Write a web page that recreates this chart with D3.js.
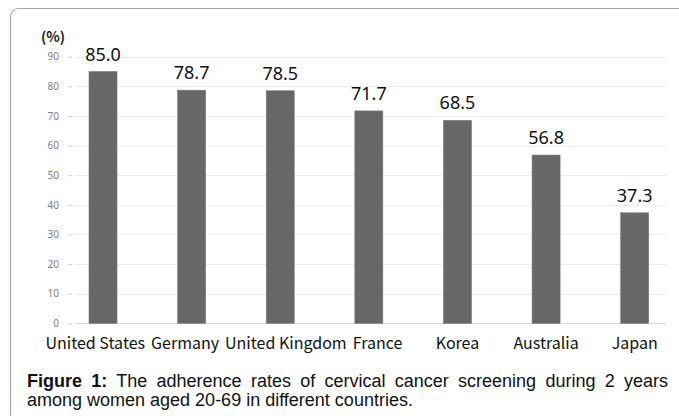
<!DOCTYPE html>
<html>
<head>
<meta charset="utf-8">
<script src="https://cdn.jsdelivr.net/npm/d3@7"></script>
<style>
  html, body { margin: 0; padding: 0; background: #fff; }
  #wrap { position: relative; width: 679px; height: 416px; overflow: hidden; }
  svg { position: absolute; left: 0; top: 0; }
  .cap { position: absolute; left: 27px; width: 641px; font-family: "Liberation Sans", Arial, sans-serif; font-size: 18px; color: #111; line-height: 21px; }
  .cap1 { top: 371px; text-align: justify; text-align-last: justify; white-space: nowrap; }
  .cap2 { top: 390px; text-align: left; }
</style>
</head>
<body>
<div id="wrap">
  <svg id="chart" width="679" height="416"></svg>
  <div class="cap cap1" id="cap1"></div>
  <div class="cap cap2" id="cap2"></div>
</div>
<script>
const categories = ["United States", "Germany", "United Kingdom", "France", "Korea", "Australia", "Japan"];
const values = [85.0, 78.7, 78.5, 71.7, 68.5, 56.8, 37.3];
const yTicks = [0, 10, 20, 30, 40, 50, 60, 70, 80, 90];
const unitLabel = "(%)";
const captionBold = "Figure 1:";
const captionLine1 = " The adherence rates of cervical cancer screening during 2 years";
const captionLine2 = "among women aged 20-69 in different countries.";

const svg = d3.select("#chart");

// frame
svg.append("rect")
  .attr("x", 10.5).attr("y", 8.5)
  .attr("width", 720).attr("height", 460)
  .attr("rx", 8).attr("ry", 8)
  .attr("fill", "none").attr("stroke", "#a6a6a6").attr("stroke-width", 1.2);

const y = d3.scaleLinear().domain([0, 90]).range([323.3, 56.7]);
const x = d3.scaleBand().domain(categories)
  .range([58.7, 679]).paddingInner(0.684).paddingOuter(0.342);

// gridlines
svg.append("g").selectAll("line").data(yTicks).join("line")
  .attr("x1", 75).attr("x2", 666)
  .attr("y1", d => Math.round(y(d)) + 0.5).attr("y2", d => Math.round(y(d)) + 0.5)
  .attr("stroke", d => d === 0 ? "#d9d9d9" : "#ececec").attr("stroke-width", 1);

// y axis ticks & labels
const yAxis = d3.axisLeft(y).tickValues(yTicks).tickSize(4).tickPadding(9);
const gy = svg.append("g").attr("transform", "translate(72,0)").call(yAxis);
gy.select(".domain").remove();
gy.selectAll(".tick line").attr("stroke", "#d0d0d0");
gy.selectAll(".tick text")
  .attr("font-family", "'Noto Sans', sans-serif").attr("font-size", 10)
  .attr("fill", "#7f7f7f");

// unit label
svg.append("text").attr("x", 41).attr("y", 42)
  .attr("font-family", "'Noto Sans CJK JP', sans-serif").attr("font-size", 14)
  .attr("font-weight", "bold").attr("fill", "#222").text(unitLabel);

// bars
svg.append("g").selectAll("rect").data(values).join("rect")
  .attr("x", (d, i) => x(categories[i]))
  .attr("y", d => y(d))
  .attr("width", x.bandwidth())
  .attr("height", d => y(0) - y(d))
  .attr("fill", "#676767")
  .attr("stroke", "#7a7a7a").attr("stroke-width", 0.6);

// value labels
svg.append("g").selectAll("text").data(values).join("text")
  .attr("x", (d, i) => x(categories[i]) + x.bandwidth() / 2)
  .attr("y", d => y(d) - 11)
  .attr("text-anchor", "middle")
  .attr("font-family", "'Noto Sans', sans-serif").attr("font-size", 18)
  .attr("fill", "#111")
  .text(d => d.toFixed(1));

// category labels (centered, then nudged apart so they do not collide)
const catText = svg.append("g").selectAll("text").data(categories).join("text")
  .attr("x", d => x(d) + x.bandwidth() / 2)
  .attr("y", 349)
  .attr("text-anchor", "middle")
  .attr("font-family", "'Noto Sans CJK JP', sans-serif").attr("font-size", 16)
  .attr("fill", "#111")
  .text(d => d);

const items = [];
catText.each(function(d) {
  const w = this.getComputedTextLength();
  items.push({ node: this, c: x(d) + x.bandwidth() / 2, w: w });
});
const gap = 6;
for (let iter = 0; iter < 50; iter++) {
  for (let i = 0; i < items.length - 1; i++) {
    const a = items[i], b = items[i + 1];
    const overlap = (a.c + a.w / 2 + gap) - (b.c - b.w / 2);
    if (overlap > 0) { a.c -= overlap / 2; b.c += overlap / 2; }
  }
}
items.forEach(it => d3.select(it.node).attr("x", it.c));

// caption
const c1 = d3.select("#cap1");
c1.append("b").text(captionBold);
c1.append("span").text(captionLine1);
d3.select("#cap2").text(captionLine2);
</script>
</body>
</html>
